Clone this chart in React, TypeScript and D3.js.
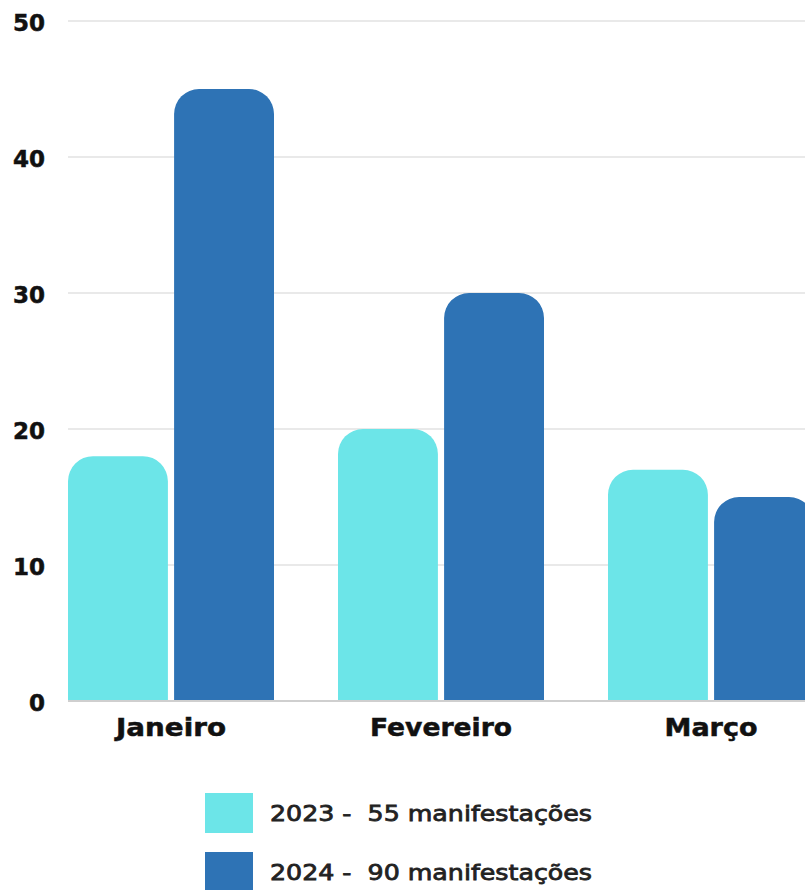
import React from "react";
import * as d3 from "d3";

const categories = ["Janeiro", "Fevereiro", "Março"];
const seriesNames = ["2023", "2024"];
const values2023 = [18, 20, 17];
const values2024 = [45, 30, 15];
const legendLabels = ["2023 -  55 manifestações", "2024 -  90 manifestações"];
const yTicks = [0, 10, 20, 30, 40, 50];
const colors = ["#6ce5e8", "#2e73b5"];

const W = 805;
const H = 890;
const catLabelWidths = [110, 142, 93];

function topRoundedRect(x: number, y: number, w: number, h: number, r: number) {
  const rr = Math.min(r, w / 2, h);
  const p = d3.path();
  p.moveTo(x, y + h);
  p.lineTo(x, y + rr);
  p.arcTo(x, y, x + rr, y, rr);
  p.lineTo(x + w - rr, y);
  p.arcTo(x + w, y, x + w, y + rr, rr);
  p.lineTo(x + w, y + h);
  p.closePath();
  return p.toString();
}

export default function App() {
  const y = d3.scaleLinear().domain([0, 50]).range([701, 21]);
  const x0 = d3
    .scaleBand<string>()
    .domain(categories)
    .range([36, 846])
    .paddingInner(64 / 270)
    .paddingOuter(32 / 270);
  const x1 = d3
    .scaleBand<string>()
    .domain(seriesNames)
    .range([0, x0.bandwidth()])
    .paddingInner(6 / 103)
    .paddingOuter(0);
  const series = [values2023, values2024];
  const font = "'DejaVu Sans', Verdana, sans-serif";

  return (
    <svg
      width={W}
      height={H}
      style={{ position: "absolute", left: 0, top: 0, background: "#fff" }}
      fontFamily={font}
    >
      {yTicks.map((t) => (
        <g key={t}>
          {t !== 0 && (
            <line x1={68} x2={W} y1={y(t)} y2={y(t)} stroke="#e2e2e2" strokeWidth={1.5} />
          )}
          <text
            x={45}
            y={y(t) + 2}
            dy="0.36em"
            textAnchor="end"
            fontSize={23}
            fontWeight={700}
            fill="#111"
            stroke="#111"
            strokeWidth={0.5}
          >
            {t}
          </text>
        </g>
      ))}
      {categories.map((c, i) => (
        <g key={c} transform={`translate(${x0(c)},0)`}>
          {seriesNames.map((s, j) => {
            const v = series[j][i];
            const bx = x1(s)!;
            return (
              <path
                key={s}
                d={topRoundedRect(bx, y(v), x1.bandwidth(), y(0) - y(v), 25)}
                fill={colors[j]}
              />
            );
          })}
          <text
            x={x0.bandwidth() / 2 - catLabelWidths[i] / 2}
            y={736}
            fontSize={24}
            fontWeight={700}
            fill="#111"
            stroke="#111"
            strokeWidth={0.5}
            textLength={catLabelWidths[i]}
            lengthAdjust="spacingAndGlyphs"
          >
            {c}
          </text>
        </g>
      ))}
      <line x1={68} x2={W} y1={y(0)} y2={y(0)} stroke="#cfcfcf" strokeWidth={2} />
      {legendLabels.map((l, i) => (
        <g key={l} transform={`translate(205,${793 + i * 59})`}>
          <rect width={48} height={40} fill={colors[i]} />
          <text
            x={65}
            y={28}
            fontSize={22}
            fill="#222"
            stroke="#222"
            strokeWidth={0.8}
            textLength={322}
            lengthAdjust="spacingAndGlyphs"
            style={{ whiteSpace: "pre" }}
          >
            {l}
          </text>
        </g>
      ))}
    </svg>
  );
}
